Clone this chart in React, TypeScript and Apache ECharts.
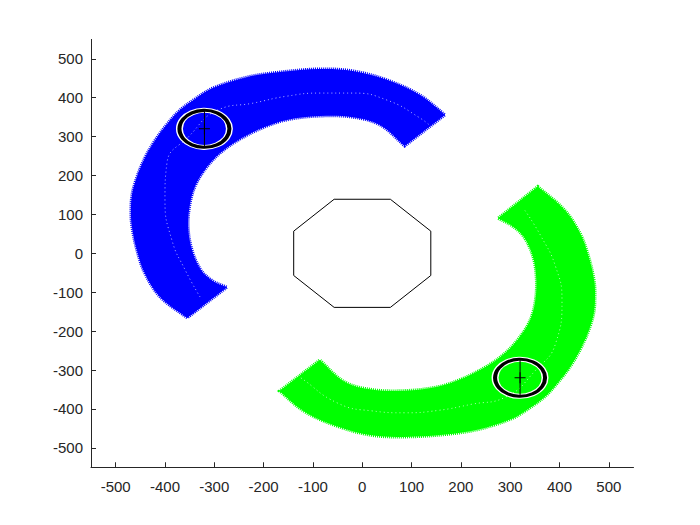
import React, { useEffect, useRef } from "react";
import * as echarts from "echarts";

const xTicks = [-500, -400, -300, -200, -100, 0, 100, 200, 300, 400, 500];
const yTicks = [-500, -400, -300, -200, -100, 0, 100, 200, 300, 400, 500];

// Blue swept band: outer edge (lower tip -> upper tip), inner edge (upper corner -> lower corner)
const blueOuter = [[-355, -166], [-410, -112], [-441, -51], [-457, 8], [-467, 68], [-469, 104], [-467, 150], [-457, 196], [-441, 245], [-420, 291], [-396, 332], [-370, 368], [-337, 399], [-303, 425], [-234, 453], [-167, 466], [-86, 474], [-19, 469], [50, 446], [117, 407], [168, 356]];
const blueInner = [[86, 276], [36, 330], [-19, 350], [-86, 353], [-153, 343], [-203, 322], [-254, 289], [-288, 258], [-315, 222], [-337, 178], [-349, 129], [-353, 68], [-345, 8], [-327, -43], [-303, -71], [-274, -87]];
// Green swept band: outer edge (upper tip -> lower tip), inner edge (lower corner -> upper corner)
const greenOuter = [[356, 172], [410, 112], [442, 51], [459, -8], [470, -68], [472, -104], [470, -150], [460, -196], [443, -245], [422, -291], [397, -332], [371, -368], [338, -399], [304, -425], [235, -453], [168, -466], [86, -472], [19, -468], [-50, -445], [-117, -407], [-168, -354]];
const greenInner = [[-86, -274], [-36, -330], [19, -350], [86, -353], [153, -343], [203, -322], [254, -289], [288, -258], [315, -222], [338, -178], [350, -129], [353, -68], [346, -8], [327, 43], [302, 72], [275, 90]];

// trajectory (dotted white) lines
const blueTrack = [[-329, -112], [-359, -43], [-386, 34], [-400, 137], [-396, 232], [-352, 300], [-290, 370], [-222, 386], [-153, 404], [-86, 412], [-19, 412], [50, 394], [117, 348], [143, 322]];
const greenTrack = [[330, 110], [362, 45], [392, -34], [405, -120], [392, -232], [352, -300], [290, -370], [222, -388], [153, -404], [86, -410], [19, -405], [-50, -385], [-127, -318], [-150, -300]];

// octagon obstacle
const octagon = [[57, 139], [-57, 139], [-139, 57], [-139, -57], [-57, -139], [57, -139], [139, -57], [139, 57], [57, 139]];

// robot positions
const blueRobot = [[-320, 320]];
const greenRobot = [[320, -320]];
const blueHeading = [[-320, 272], [-320, 368]];
const greenHeading = [[320, -368], [320, -272]];

const FONT = "'Liberation Sans', Arial, Helvetica, sans-serif";
const AXIS_COLOR = "#262626";

function band(outer: number[][], inner: number[][], color: string) {
  return {
    type: "custom",
    coordinateSystem: "cartesian2d",
    silent: true,
    z: 1,
    data: [[0, 0]],
    renderItem: (_params: any, api: any) => {
      const o = outer.map((p) => api.coord(p));
      const i = inner.map((p) => api.coord(p));
      // duplicate the four end corners so smoothing keeps the cut ends straight
      const pts = [o[0], ...o, o[o.length - 1], i[0], ...i, i[i.length - 1]];
      return {
        type: "polygon",
        shape: { points: pts, smooth: 0.35 },
        style: { fill: color, stroke: color, lineWidth: 3, lineDash: [1, 1] },
      };
    },
  };
}

function track(data: number[][]) {
  return {
    type: "line",
    data,
    smooth: true,
    symbol: "none",
    silent: true,
    z: 2,
    lineStyle: { color: "#ffffff", width: 1, type: [1, 3], opacity: 0.7 },
  };
}

function robot(pos: number[][], heading: number[][]) {
  return [
    {
      type: "scatter",
      data: pos,
      symbol: "circle",
      symbolSize: [50, 37],
      silent: true,
      z: 3,
      itemStyle: { color: "rgba(0,0,0,0)", borderColor: "#ffffff", borderWidth: 6, opacity: 1 },
    },
    {
      type: "scatter",
      data: pos,
      symbol: "circle",
      symbolSize: [50, 37],
      silent: true,
      z: 4,
      itemStyle: { color: "rgba(0,0,0,0)", borderColor: "#000000", borderWidth: 3.5, opacity: 1 },
    },
    {
      type: "line",
      data: heading,
      symbol: "none",
      silent: true,
      z: 5,
      lineStyle: { color: "#000000", width: 1 },
    },
    {
      type: "scatter",
      data: pos,
      symbol: "path://M0,5h11v1h-11zM5,0h1v11h-1z",
      symbolSize: 11,
      silent: true,
      z: 6,
      itemStyle: { color: "#000000", opacity: 1 },
    },
  ];
}

export default function App() {
  const ref = useRef<HTMLDivElement>(null);
  useEffect(() => {
    const chart = echarts.init(ref.current as HTMLDivElement, null, { renderer: "svg" });
    chart.setOption({
      animation: false,
      backgroundColor: "#ffffff",
      grid: { left: 91, right: 66.5, top: 39.4, bottom: 57.75, containLabel: false, outerBoundsMode: "none" },
      xAxis: {
        type: "value",
        min: -550,
        max: 550,
        axisLine: { show: true, onZero: false, lineStyle: { color: AXIS_COLOR, width: 1 } },
        axisTick: { show: true, inside: true, length: 5, customValues: xTicks, lineStyle: { color: AXIS_COLOR } },
        axisLabel: { customValues: xTicks, color: AXIS_COLOR, fontSize: 15, margin: 12, fontFamily: FONT },
        splitLine: { show: false },
      },
      yAxis: {
        type: "value",
        min: -550,
        max: 550,
        axisLine: { show: true, onZero: false, lineStyle: { color: AXIS_COLOR, width: 1 } },
        axisTick: { show: true, inside: true, length: 5, customValues: yTicks, lineStyle: { color: AXIS_COLOR } },
        axisLabel: { customValues: yTicks, color: AXIS_COLOR, fontSize: 15, margin: 8, fontFamily: FONT },
        splitLine: { show: false },
      },
      series: [
        band(blueOuter, blueInner, "#0000ff"),
        band(greenOuter, greenInner, "#00ff00"),
        track(blueTrack),
        track(greenTrack),
        {
          type: "line",
          data: octagon,
          symbol: "none",
          silent: true,
          z: 2,
          lineStyle: { color: "#000000", width: 1 },
        },
        ...robot(blueRobot, blueHeading),
        ...robot(greenRobot, greenHeading),
      ],
    });
    return () => chart.dispose();
  }, []);
  return (
    <div
      ref={ref}
      style={{ position: "fixed", left: 0, top: 0, width: 700, height: 525, background: "#ffffff" }}
    />
  );
}
